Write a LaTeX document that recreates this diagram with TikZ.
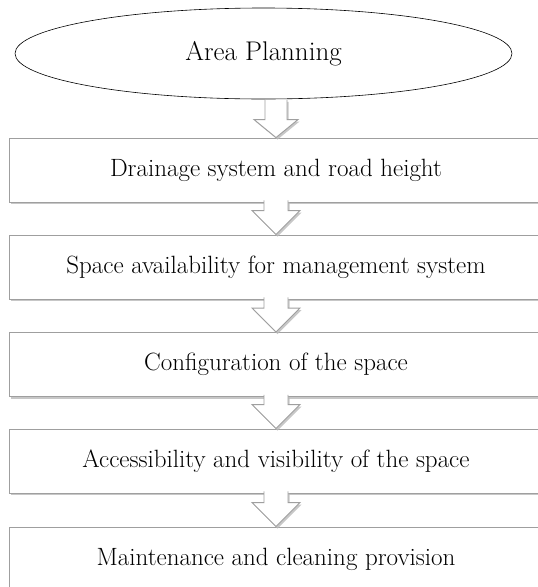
\documentclass[tikz,border=0pt]{standalone}
\usepackage{fontspec}
\usetikzlibrary{shapes.geometric,shadows,calc}
\tikzset{
  stepbox/.style={draw=gray!75, line width=0.9pt, fill=white, minimum width=534pt, minimum height=64pt, inner sep=0pt,
    drop shadow={shadow xshift=1.5pt, shadow yshift=-2pt, fill=gray!55, opacity=0.8},
    font=\fontsize{25}{30}\selectfont},
  startellipse/.style={ellipse, draw=black, line width=0.6pt, fill=white, minimum width=497pt, minimum height=91pt, inner sep=0pt,
    font=\fontsize{27}{32}\selectfont},
  blockarrow/.style={draw=gray!75, line width=0.9pt, fill=white, line join=miter,
    drop shadow={shadow xshift=1.5pt, shadow yshift=-2pt, fill=gray!55, opacity=0.8}},
}
\newcommand\blockarr[4]{% #1 shaft top, #2 tip, #3 head height, #4 half shaft width; head half width = 2*#4
  \filldraw[blockarrow] ($(#1)+(-#4,0)$) -- ($(#2)+(-#4,-#3)$) -- ($(#2)+(-2*#4,-#3)$) -- (#2)
    -- ($(#2)+(2*#4,-#3)$) -- ($(#2)+(#4,-#3)$) -- ($(#1)+(#4,0)$);}
\begin{document}
\begin{tikzpicture}[x=1pt,y=-1pt]
\useasboundingbox (0,0) rectangle (538,587);
\node[startellipse] (e) at (263.5,53.5) {Area Planning};
\node[stepbox] (b1) at (276,170) {Drainage system and road height};
\node[stepbox] (b2) at (276,267) {Space availability for management system};
\node[stepbox] (b3) at (276,364.5) {Configuration of the space};
\node[stepbox] (b4) at (276,461) {Accessibility and visibility of the space};
\node[stepbox] (b5) at (276,559) {Maintenance and cleaning provision};
\coordinate (t0) at ($(e.south -| b1.north)+(0,0.5)$);
\coordinate (t1) at ($(b1.south)+(0,-2)$);
\coordinate (t2) at ($(b2.south)+(0,-2)$);
\coordinate (t3) at ($(b3.south)+(0,-2)$);
\coordinate (t4) at ($(b4.south)+(0,-2)$);
\blockarr{t0}{b1.north}{18}{11}
\blockarr{t1}{b2.north}{24}{12}
\blockarr{t2}{b3.north}{24}{12}
\blockarr{t3}{b4.north}{24}{12}
\blockarr{t4}{b5.north}{24}{12}
\end{tikzpicture}
\end{document}
